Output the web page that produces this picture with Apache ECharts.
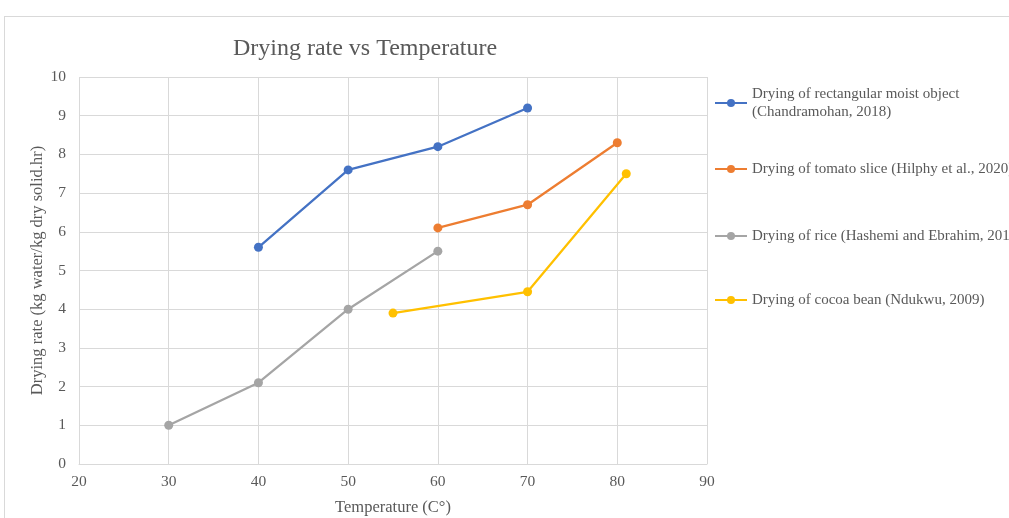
<!DOCTYPE html>
<html>
<head>
<meta charset="utf-8">
<script src="https://cdn.jsdelivr.net/npm/echarts@6/dist/echarts.min.js"></script>
<style>
  html, body { margin: 0; padding: 0; background: #fff; overflow: hidden; }
  #frame { position: absolute; left: 4px; top: 16px; width: 1100px; height: 600px;
           border-left: 1px solid #d9d9d9; border-top: 1px solid #d9d9d9; }
  #chart { position: absolute; left: 0; top: 0; width: 1009px; height: 518px; }
</style>
</head>
<body>
<div id="frame"></div>
<div id="chart"></div>
<script>
// Temperatures (°C) and drying rates (kg water / kg dry solid.hr) per study
const seriesNames = [
  'Drying of rectangular moist object (Chandramohan, 2018)',
  'Drying of tomato slice (Hilphy et al., 2020)',
  'Drying of rice (Hashemi and Ebrahim, 2018)',
  'Drying of cocoa bean (Ndukwu, 2009)'
];
const rectTemp = [40, 50, 60, 70];
const rectRate = [5.6, 7.6, 8.2, 9.2];
const tomatoTemp = [60, 70, 80];
const tomatoRate = [6.1, 6.7, 8.3];
const riceTemp = [30, 40, 50, 60];
const riceRate = [1.0, 2.1, 4.0, 5.5];
const cocoaTemp = [55, 70, 81];
const cocoaRate = [3.9, 4.45, 7.5];
const seriesColors = ['#4472C4', '#ED7D31', '#A5A5A5', '#FFC000'];

const pairs = (xs, ys) => xs.map((x, i) => [x, ys[i]]);
const seriesData = [
  pairs(rectTemp, rectRate),
  pairs(tomatoTemp, tomatoRate),
  pairs(riceTemp, riceRate),
  pairs(cocoaTemp, cocoaRate)
];

const FONT = '"Liberation Serif", "Times New Roman", serif';
const TEXT = '#595959';
const GRID = '#d9d9d9';

// one legend block per series so each entry sits at its own height
const legendCenters = [103, 169, 236, 300];
const LINE_H = 18;
const legends = seriesNames.map((name, i) => {
  const twoLine = i === 0;
  return {
    data: [name],
    orient: 'vertical',
    left: 714,
    top: twoLine ? legendCenters[i] - 1.5 * LINE_H : legendCenters[i] - LINE_H / 2,
    padding: 0,
    itemWidth: 32,
    itemHeight: 10,
    itemGap: 0,
    formatter: twoLine
      ? () => 'Drying of rectangular moist object\n(Chandramohan, 2018)'
      : '{name}',
    textStyle: {
      fontFamily: FONT,
      fontSize: 15,
      color: TEXT,
      lineHeight: LINE_H,
      padding: twoLine ? [LINE_H, 0, 0, 0] : 0
    }
  };
});

const chart = echarts.init(document.getElementById('chart'), null, { renderer: 'canvas' });
chart.setOption({
  backgroundColor: 'transparent',
  animation: false,
  title: {
    text: 'Drying rate vs Temperature',
    left: 360,
    top: 32,
    textAlign: 'center',
    textStyle: { fontFamily: FONT, fontSize: 24, fontWeight: 'normal', color: TEXT }
  },
  legend: legends,
  grid: {
    left: 79, right: 302, top: 77, bottom: 54,
    containLabel: false,
    outerBoundsMode: 'none'
  },
  xAxis: {
    type: 'value',
    min: 20,
    max: 90,
    interval: 10,
    name: 'Temperature (C°)',
    nameLocation: 'middle',
    nameGap: 35,
    nameMoveOverlap: false,
    nameTextStyle: { fontFamily: FONT, fontSize: 16.5, color: TEXT },
    axisLine: { show: true, lineStyle: { color: GRID, width: 1 } },
    axisTick: { show: false },
    axisLabel: { fontFamily: FONT, fontSize: 15.5, color: TEXT, margin: 10 },
    splitLine: { show: true, lineStyle: { color: GRID, width: 1 } }
  },
  yAxis: {
    type: 'value',
    min: 0,
    max: 10,
    interval: 1,
    name: 'Drying rate (kg water/kg dry solid.hr)',
    nameLocation: 'middle',
    nameGap: 33,
    nameMoveOverlap: false,
    nameTextStyle: { fontFamily: FONT, fontSize: 16.5, color: TEXT },
    axisLine: { show: false },
    axisTick: { show: false },
    axisLabel: { fontFamily: FONT, fontSize: 15.5, color: TEXT, margin: 13 },
    splitLine: { show: true, lineStyle: { color: GRID, width: 1 } }
  },
  series: seriesNames.map((name, i) => ({
    name,
    type: 'line',
    data: seriesData[i],
    symbol: 'circle',
    symbolSize: 9,
    color: seriesColors[i],
    lineStyle: { width: 2.25, color: seriesColors[i] },
    itemStyle: { color: seriesColors[i] },
    emphasis: { disabled: true }
  }))
});
</script>
</body>
</html>
